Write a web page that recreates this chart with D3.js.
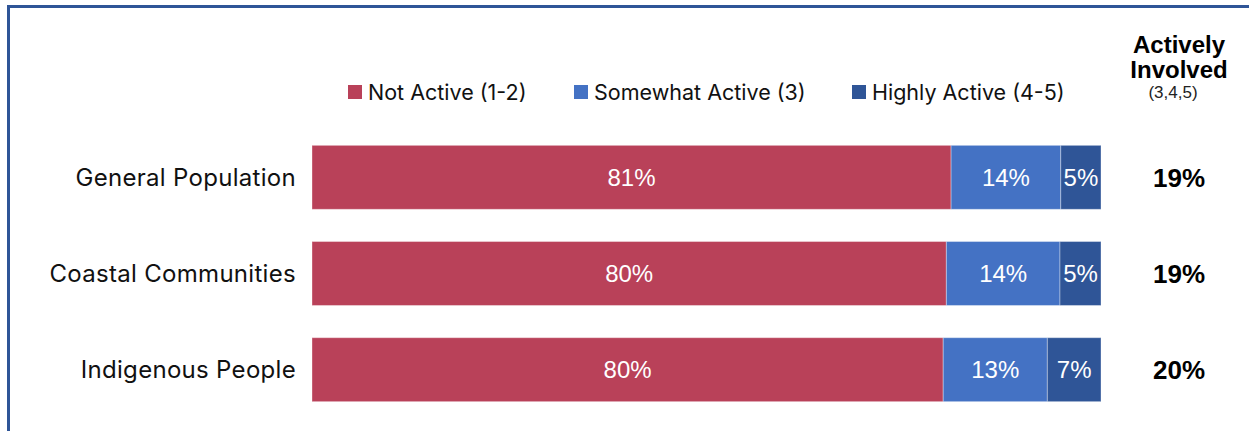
<!DOCTYPE html>
<html>
<head>
<meta charset="utf-8">
<script src="https://cdn.jsdelivr.net/npm/d3@7"></script>
<style>
  body { margin: 0; background: #fff; }
  svg { display: block; }
</style>
</head>
<body>
<div id="chart"></div>
<script>
const groups = ['General Population', 'Coastal Communities', 'Indigenous People'];
const series = ['Not Active (1-2)', 'Somewhat Active (3)', 'Highly Active (4-5)'];
const notActive = [81.0, 80.4, 80.0];
const somewhatActive = [13.9, 14.4, 13.2];
const highlyActive = [5.1, 5.2, 6.8];
const activelyInvolved = [19, 19, 20];
const colors = ['#B94159', '#4472C4', '#2F5597'];

const width = 1249, height = 431;
const svg = d3.select('#chart').append('svg')
  .attr('width', width)
  .attr('height', height);

// frame (top + left edges only visible)
svg.append('path')
  .attr('d', `M8.5,${height} V6.5 H${width}`)
  .attr('fill', 'none')
  .attr('stroke', '#2F5597')
  .attr('stroke-width', 3);

const x = d3.scaleLinear().domain([0, 100]).range([312, 1101]);
const y = d3.scaleBand().domain(groups).range([129, 418]).paddingInner(0.335).paddingOuter(0.17);

const rows = groups.map((g, i) => {
  const vals = [notActive[i], somewhatActive[i], highlyActive[i]];
  let acc = 0;
  return vals.map((v, k) => {
    const seg = {group: g, key: k, x0: acc, x1: acc + v, value: v};
    acc += v;
    return seg;
  });
});

const row = svg.selectAll('g.row')
  .data(rows)
  .join('g')
  .attr('class', 'row');

row.selectAll('rect')
  .data(d => d)
  .join('rect')
  .attr('x', d => x(d.x0))
  .attr('y', d => y(d.group))
  .attr('width', d => x(d.x1) - x(d.x0))
  .attr('height', y.bandwidth())
  .attr('fill', d => colors[d.key])
  .attr('stroke', 'rgba(255,255,255,0.35)')
  .attr('stroke-width', 1);

row.selectAll('text.val')
  .data(d => d)
  .join('text')
  .attr('class', 'val')
  .attr('x', d => (x(d.x0) + x(d.x1)) / 2)
  .attr('y', d => y(d.group) + y.bandwidth() / 2)
  .attr('dy', '0.36em')
  .attr('text-anchor', 'middle')
  .attr('fill', '#fff')
  .attr('font-family', 'Liberation Sans, Arial, sans-serif')
  .attr('font-size', 24)
  .text(d => d3.format('.0f')(d.value) + '%');

// category labels
svg.selectAll('text.cat')
  .data(groups)
  .join('text')
  .attr('class', 'cat')
  .attr('x', 296)
  .attr('y', d => y(d) + y.bandwidth() / 2)
  .attr('dy', '0.35em')
  .attr('text-anchor', 'end')
  .attr('fill', '#111')
  .attr('font-family', 'Inter, Open Sans, sans-serif')
  .attr('font-size', 24)
  .attr('letter-spacing', 0.3)
  .text(d => d);

// actively involved column
const colX = 1179;
svg.selectAll('text.inv')
  .data(groups)
  .join('text')
  .attr('class', 'inv')
  .attr('x', colX)
  .attr('y', d => y(d) + y.bandwidth() / 2)
  .attr('dy', '0.36em')
  .attr('text-anchor', 'middle')
  .attr('font-family', 'Liberation Sans, Arial, sans-serif')
  .attr('font-weight', 'bold')
  .attr('font-size', 26)
  .text((d, i) => activelyInvolved[i] + '%');

const head = svg.append('g')
  .attr('font-family', 'Liberation Sans, Arial, sans-serif')
  .attr('text-anchor', 'middle');
head.append('text').attr('x', colX).attr('y', 53).attr('font-weight', 'bold').attr('font-size', 24).text('Actively');
head.append('text').attr('x', colX).attr('y', 78).attr('font-weight', 'bold').attr('font-size', 24).text('Involved');
head.append('text').attr('x', 1173).attr('y', 98).attr('font-size', 17).attr('fill', '#222').text('(3,4,5)');

// legend
const legendX = [348, 574, 852];
const legend = svg.selectAll('g.leg')
  .data(series)
  .join('g')
  .attr('class', 'leg')
  .attr('transform', (d, i) => `translate(${legendX[i]},85)`);
legend.append('rect')
  .attr('width', 14).attr('height', 14)
  .attr('fill', (d, i) => colors[i]);
legend.append('text')
  .attr('x', 20)
  .attr('y', 7)
  .attr('dy', '0.35em')
  .attr('fill', '#111')
  .attr('font-family', 'Inter, Open Sans, sans-serif')
  .attr('font-size', 21.5)
  .text(d => d);
</script>
</body>
</html>
